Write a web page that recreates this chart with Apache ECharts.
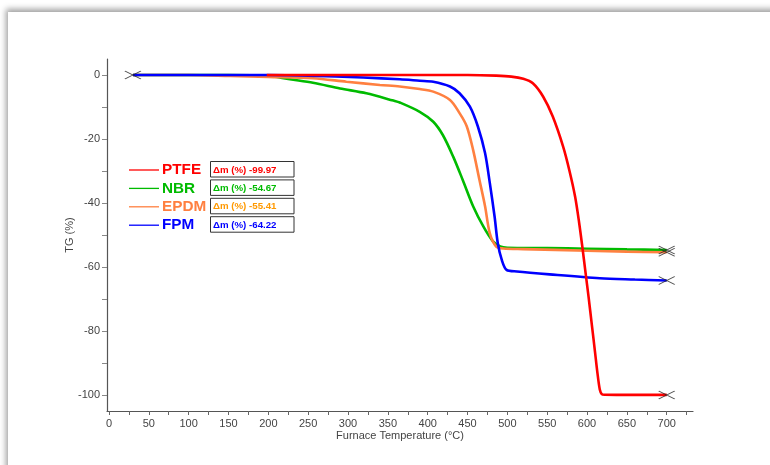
<!DOCTYPE html>
<html>
<head>
<meta charset="utf-8">
<script src="https://cdn.jsdelivr.net/npm/echarts@6/dist/echarts.min.js"></script>
<style>
html,body{margin:0;padding:0;background:#fff;width:770px;height:465px;overflow:hidden;}
#panel{position:absolute;left:8px;top:12px;width:820px;height:520px;background:#fff;box-shadow:-2px -3px 6px rgba(0,0,0,0.38);}
#chart{position:absolute;left:0;top:0;width:770px;height:465px;}
</style>
</head>
<body>
<div id="panel"></div>
<div id="chart"></div>
<script>
// ---- data ----
const seriesNames = ['PTFE', 'NBR', 'EPDM', 'FPM'];
const deltaLabels = ['Δm (%) -99.97', 'Δm (%) -54.67', 'Δm (%) -55.41', 'Δm (%) -64.22'];
const xTickLabels = [0, 50, 100, 150, 200, 250, 300, 350, 400, 450, 500, 550, 600, 650, 700];
const yTickLabels = [0, -20, -40, -60, -80, -100];

const ptfeT = [198, 250, 300, 400, 450, 486, 505, 520, 532, 545, 557, 570, 578, 585, 590, 594, 598, 602, 606, 610, 613, 616, 618.5, 622, 650, 700];
const ptfeV = [0, 0, 0, 0, 0, -0.2, -0.5, -1.2, -2.6, -6.8, -13, -22.4, -30, -38, -46, -53.5, -61.5, -69.5, -78, -86.5, -93, -98.3, -99.7, -99.9, -99.95, -99.97];

const nbrT = [30, 100, 150, 198, 227, 256, 290, 323, 357, 365, 390, 407, 419, 432, 444, 457, 470, 482, 491, 500, 550, 600, 650, 700];
const nbrV = [0, 0, 0, -0.2, -1.35, -2.4, -4.2, -5.7, -8, -8.6, -11.5, -14.6, -18.75, -25.5, -32.8, -41, -47.4, -52, -53.6, -54, -54.1, -54.3, -54.5, -54.67];

const epdmT = [30, 100, 152, 200, 256, 298, 340, 365, 390, 407, 428, 440, 449, 457, 465, 472, 478, 486, 495, 520, 600, 650, 700];
const epdmV = [0, 0, -0.3, -0.6, -1, -2.1, -3.1, -3.6, -4.4, -5.2, -7.8, -11.9, -16, -23.4, -32.8, -41, -49.5, -53.6, -54.2, -54.4, -54.9, -55.2, -55.41];

const fpmT = [30, 100, 200, 250, 319, 365, 390, 407, 428, 440, 453, 463, 472, 478, 484, 488, 493, 499, 512, 553, 616, 660, 700];
const fpmV = [0, 0, 0, -0.2, -0.8, -1.35, -1.8, -2.1, -3.6, -5.7, -9.9, -16.1, -24.4, -33.8, -44.3, -52.6, -57.8, -60.9, -61.4, -62.3, -63.5, -63.9, -64.22];

const startMarker = [[30, 0]];
const endMarkers = [[700, -99.97], [700, -54.67], [700, -55.41], [700, -64.22]];

const colors = { PTFE: '#ff0000', NBR: '#00bb00', EPDM: '#ff8040', FPM: '#0000ff' };
const deltaColors = ['#ff0000', '#00bb00', '#ff9900', '#0000ff'];

function zip(t, v) { return t.map((x, i) => [x, v[i]]); }

const font = '"Liberation Sans", Arial, sans-serif';
const chart = echarts.init(document.getElementById('chart'), null, { renderer: 'canvas' });

function lineSeries(name, t, v) {
  return {
    type: 'line', name: name, data: zip(t, v), showSymbol: false, smooth: 0.3,
    lineStyle: { color: colors[name], width: 2.6 }, itemStyle: { color: colors[name] },
    animation: false, z: 2
  };
}

const crossPath = 'path://M0,0L16,8M0,8L16,0';

const graphics = [];
seriesNames.forEach((n, i) => {
  const cy = 170 + 18.4 * i;
  graphics.push({ type: 'line', shape: { x1: 129, y1: cy, x2: 159, y2: cy }, style: { stroke: colors[n], lineWidth: 1.3 }, z: 10 });
  graphics.push({ type: 'text', x: 162, y: cy, style: { text: n, font: 'bold 15.3px ' + font, fill: colors[n], textVerticalAlign: 'middle' }, z: 10 });
  graphics.push({ type: 'rect', shape: { x: 210.5, y: cy - 8.5, width: 83.5, height: 15.5 }, style: { fill: '#fff', stroke: '#333', lineWidth: 1 }, z: 10 });
  graphics.push({ type: 'text', x: 213, y: cy, style: { text: deltaLabels[i], font: 'bold 9.7px ' + font, fill: deltaColors[i], textVerticalAlign: 'middle' }, z: 11 });
});

const option = {
  backgroundColor: 'transparent',
  animation: false,
  grid: { left: 107, right: 77, top: 59, bottom: 54, containLabel: false },
  xAxis: {
    type: 'value', min: -2.5, max: 733,
    name: 'Furnace Temperature (°C)', nameLocation: 'middle', nameGap: 19, nameMoveOverlap: false,
    nameTextStyle: { color: '#444', fontSize: 11, fontFamily: font },
    axisLine: { show: true, onZero: false, lineStyle: { color: '#555', width: 1.2 } },
    axisTick: { show: true, length: 4, customValues: [0,25,50,75,100,125,150,175,200,225,250,275,300,325,350,375,400,425,450,475,500,525,550,575,600,625,650,675,700,725], lineStyle: { color: '#666' } },
    axisLabel: { customValues: xTickLabels, color: '#444', fontSize: 11, fontFamily: font, margin: 7 },
    splitLine: { show: false }
  },
  yAxis: {
    type: 'value', min: -105, max: 5,
    name: 'TG (%)', nameLocation: 'middle', nameGap: 32, nameMoveOverlap: false,
    nameTextStyle: { color: '#444', fontSize: 11, fontFamily: font },
    axisLine: { show: true, onZero: false, lineStyle: { color: '#555', width: 1.2 } },
    axisTick: { show: true, length: 5, customValues: [0,-10,-20,-30,-40,-50,-60,-70,-80,-90,-100], lineStyle: { color: '#888' } },
    axisLabel: { customValues: yTickLabels, color: '#444', fontSize: 11, fontFamily: font, margin: 7 },
    splitLine: { show: false }
  },
  series: [
    lineSeries('NBR', nbrT, nbrV),
    lineSeries('EPDM', epdmT, epdmV),
    lineSeries('FPM', fpmT, fpmV),
    lineSeries('PTFE', ptfeT, ptfeV),
    {
      type: 'scatter', data: startMarker.concat(endMarkers), symbol: crossPath, symbolSize: [16, 8],
      itemStyle: { color: 'none', borderColor: '#222', borderWidth: 1 }, z: 5, silent: true
    }
  ],
  graphic: graphics
};
chart.setOption(option);
</script>
</body>
</html>
